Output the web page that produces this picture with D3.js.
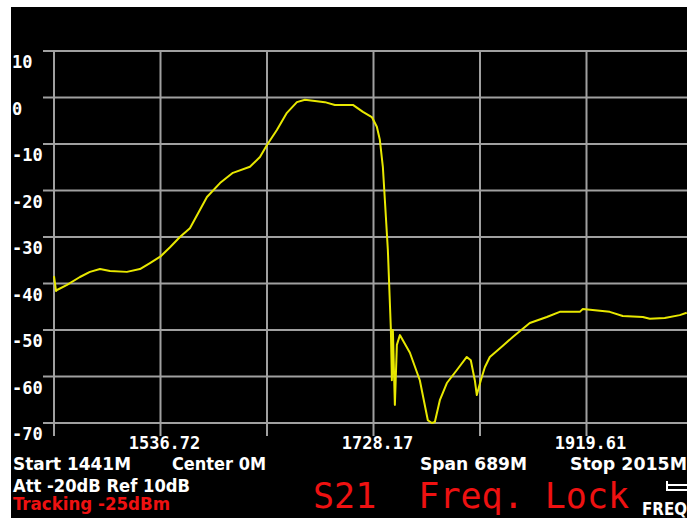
<!DOCTYPE html>
<html lang="en">
<head>
  <meta charset="UTF-8">
  <title>S21 Sweep</title>
  <script src="https://d3js.org/d3.v7.min.js"></script>
  <style>
    body { margin: 0; background: #fff; }
    svg { display: block; }
    .lbl { fill: #fff; font-family: "DejaVu Sans Mono", monospace; font-weight: bold; font-size: 17px; }
    .info { fill: #fff; font-family: "DejaVu Sans Condensed", "DejaVu Sans", sans-serif; font-weight: bold; font-size: 17px; }
    .red { fill: #ee1111; }
    .grid { stroke: #a0a0a0; stroke-width: 2; }
  </style>
</head>
<body>
  <svg id="chart" width="687" height="518"></svg>
  <script>
    // sweep settings
    const startMHz = 1441, stopMHz = 2015;
    const yTicks = [10, 0, -10, -20, -30, -40, -50, -60, -70];
    const xTickLabels = ["1536.72", "1728.17", "1919.61"];

    // trace (MHz, dB)
    const freqs = [1441.0, 1442.8, 1443.7, 1452.7, 1464.3, 1473.3, 1482.3, 1491.3, 1506.5, 1518.2,
      1527.2, 1537.1, 1545.2, 1554.1, 1563.1, 1578.4, 1590.1, 1601.7, 1617.0, 1626.0,
      1632.3, 1641.2, 1650.2, 1659.2, 1666.4, 1684.3, 1693.3, 1709.5, 1718.5, 1726.5,
      1731.0, 1733.7, 1736.4, 1738.2, 1740.9, 1743.6, 1744.5, 1745.4, 1747.2, 1749.0,
      1751.7, 1760.7, 1769.6, 1776.8, 1780.4, 1783.1, 1787.6, 1793.9, 1802.9, 1811.8,
      1815.4, 1819.0, 1820.8, 1824.4, 1828.0, 1832.5, 1844.2, 1853.1, 1868.4, 1883.7,
      1895.3, 1913.3, 1916.0, 1940.2, 1951.9, 1969.9, 1976.2, 1989.6, 2003.1, 2009.4];
    const levels = [-38.4, -41.6, -41.4, -40.3, -38.6, -37.5, -36.9, -37.3, -37.5, -36.9,
      -35.6, -34.1, -32.2, -30.0, -28.1, -21.4, -18.4, -16.2, -14.9, -12.8,
      -10.2, -7.0, -3.3, -1.0, -0.5, -1.0, -1.6, -1.6, -3.1, -4.2,
      -6.3, -9.1, -14.9, -22.0, -32.8, -49.8, -60.8, -50.0, -66.1, -53.2,
      -51.1, -54.9, -60.8, -69.4, -70.0, -69.8, -65.1, -61.4, -58.6, -55.8,
      -56.5, -60.8, -64.0, -60.8, -58.0, -55.8, -53.4, -51.5, -48.5, -47.2,
      -46.1, -46.1, -45.5, -46.1, -47.0, -47.2, -47.6, -47.4, -46.8, -46.3];

    const svg = d3.select("#chart");
    const W = 687, H = 518;

    // black screen area
    svg.append("rect").attr("x", 11).attr("y", 7).attr("width", W - 11).attr("height", H - 7).attr("fill", "#000");

    const x = d3.scaleLinear().domain([startMHz, stopMHz]).range([54, 693]);
    const y = d3.scaleLinear().domain([-70, 10]).range([423, 51]);

    // grid: 6 divisions across the span
    const step = (stopMHz - startMHz) / 6;
    const vLines = d3.range(0, 6).map(i => startMHz + i * step);

    svg.append("g").selectAll("line").data(yTicks).enter().append("line")
      .attr("class", "grid")
      .attr("x1", 43).attr("x2", W)
      .attr("y1", d => y(d)).attr("y2", d => y(d));

    svg.append("g").selectAll("line").data(vLines).enter().append("line")
      .attr("class", "grid")
      .attr("x1", d => x(d)).attr("x2", d => x(d))
      .attr("y1", y(10)).attr("y2", 436);

    // y labels sit just under their lines
    svg.append("g").selectAll("text").data(yTicks).enter().append("text")
      .attr("class", "lbl")
      .attr("x", 12).attr("y", d => y(d) + 17)
      .text(d => d);

    // x labels on every other line
    svg.append("g").selectAll("text").data(xTickLabels).enter().append("text")
      .attr("class", "lbl")
      .attr("text-anchor", "middle")
      .attr("x", (d, i) => x(vLines[1 + i * 2]) + 4)
      .attr("y", 449)
      .text(d => d);

    // trace
    const pts = freqs.map((f, i) => [f, levels[i]]);
    svg.append("path")
      .datum(pts)
      .attr("fill", "none")
      .attr("stroke", "#e8e800")
      .attr("stroke-width", 2)
      .attr("stroke-linejoin", "round")
      .attr("d", d3.line().x(d => x(d[0])).y(d => y(d[1])));

    // status text, squeezed to the widths on screen
    const info = [
      { t: "Start 1441M", x: 13, y: 470, w: 118 },
      { t: "Center 0M", x: 172, y: 470, w: 94 },
      { t: "Span 689M", x: 420, y: 470, w: 107 },
      { t: "Stop 2015M", x: 570, y: 470, w: 117 },
      { t: "Att -20dB Ref 10dB", x: 13, y: 492, w: 177 }
    ];
    svg.append("g").selectAll("text").data(info).enter().append("text")
      .attr("class", "info")
      .attr("x", d => d.x).attr("y", d => d.y)
      .attr("textLength", d => d.w)
      .attr("lengthAdjust", "spacingAndGlyphs")
      .text(d => d.t);

    svg.append("text").attr("class", "info red")
      .attr("x", 13).attr("y", 510)
      .attr("textLength", 157).attr("lengthAdjust", "spacingAndGlyphs")
      .text("Tracking -25dBm");

    svg.append("text")
      .attr("x", 313).attr("y", 508)
      .attr("fill", "#ee1111")
      .style("font-family", "'DejaVu Sans Mono', monospace")
      .style("font-size", "35px")
      .attr("xml:space", "preserve")
      .text("S21  Freq. Lock");

    // little menu icon + label
    svg.append("path")
      .attr("d", "M667,481 V490 H687 M667,485 H687")
      .attr("stroke", "#fff").attr("stroke-width", 2).attr("fill", "none");
    svg.append("text").attr("class", "info")
      .attr("x", 642).attr("y", 515)
      .attr("textLength", 45).attr("lengthAdjust", "spacingAndGlyphs")
      .text("FREQ");
  </script>
</body>
</html>
